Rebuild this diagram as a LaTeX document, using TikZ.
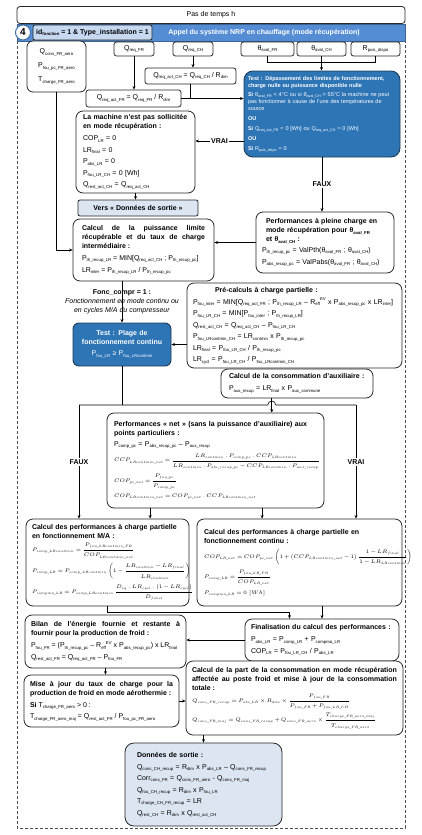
\RequirePackage{fix-cm}
\documentclass[tikz,border=0pt]{standalone}
\usepackage{amsmath}
\usepackage{fontspec}
\setmainfont{Liberation Sans}
\usepackage{tikz}
\usetikzlibrary{positioning,arrows.meta,calc}
\DeclareMathSizes{5.2}{5.2}{3.3}{2.6}
\definecolor{bandblue}{HTML}{548DD4}
\definecolor{testblue}{HTML}{2E75B6}
\definecolor{testline}{HTML}{1F3B57}
\definecolor{idblue}{HTML}{C6D9F1}
\definecolor{outblue}{HTML}{DCE6F2}
\newcommand\lo[1]{\raisebox{-0.35ex}{\fontsize{4.3}{5}\selectfont #1}}
\newcommand\los[1]{\raisebox{-0.35ex}{\fontsize{3.7}{4}\selectfont #1}}
\newcommand\hi[1]{\raisebox{0.9ex}{\fontsize{4.3}{5}\selectfont #1}}
\newcommand\mth[1]{\mbox{\fontsize{5.2}{8}\selectfont\medmuskip=2.5mu\thickmuskip=3.5mu $\displaystyle #1$}}
\setlength{\parindent}{0pt}
\hyphenpenalty=10000
\exhyphenpenalty=10000

\begin{document}
\begin{tikzpicture}[x=1pt,y=-1pt,
  font=\fontsize{7}{9}\selectfont,
  box/.style={draw=black!85,line width=0.8pt,rounded corners=7pt,fill=white,align=left,inner ysep=3pt},
  jbox/.style={box,align=justify},
  var/.style={draw=black!85,line width=0.8pt,rounded corners=2.5pt,fill=white,minimum height=14pt,inner sep=1pt},
  test/.style={box,draw=testline,fill=testblue,text=white,line width=0.9pt},
  info/.style={draw=black!85,line width=0.8pt,rounded corners=2pt,fill=outblue,font=\fontsize{7}{9}\selectfont\bfseries},
  lab/.style={font=\fontsize{7}{9}\selectfont\bfseries,fill=white,inner sep=1.5pt},
  ar/.style={-{Stealth[length=3.5pt,width=3pt]},line width=0.6pt},
  ln/.style={line width=0.6pt}]
  \useasboundingbox (0,0) rectangle (422,835);
  % cadre
  \draw[gray!60!black,line width=1pt,dash pattern=on 3pt off 2pt] (17,41) -- (17,828) -- (405,828) -- (405,41);
  \node[draw=black!85,line width=0.8pt,rounded corners=3pt,minimum width=388pt,minimum height=17pt] (pas) at (211,15) {Pas de temps h};
  \filldraw[fill=bandblue,draw=bandblue!70!black,line width=0.5pt] (17,24) rectangle (405,41);
  \node[font=\fontsize{7}{9}\selectfont\bfseries,text=white] (appel) at (264,32.5) {Appel du système NRP en chauffage (mode récupération)};
  \node[circle,draw=bandblue!80!black,fill=white,line width=1pt,minimum size=15pt,inner sep=0pt,font=\bfseries] (num) at (23,32.5) {4};
  \node[draw=black!85,line width=0.8pt,rounded corners=2pt,fill=idblue,minimum width=119pt,minimum height=15pt,inner sep=1pt,font=\fontsize{7}{9}\selectfont\bfseries] (idf) at (92.5,32.5) {id\lo{fonction} = 1 \& Type\_installation = 1};

  % entrees
  \node[box,align=center,text width=49pt,inner xsep=5pt,minimum height=51pt,rounded corners=6pt] (aero) at (56.5,66.5) {Q\lo{cons\_FR\_aero}\\[5pt] P\lo{fou\_pc\_FR\_aero}\\[5pt] T\lo{charge\_FR\_aero}};
  \node[var,minimum width=40pt] (qfr) at (134,49) {Q\lo{req\_FR}};
  \node[var,minimum width=40pt] (qch) at (193,49) {Q\lo{req\_CH}};
  \node[var,minimum width=53pt] (thfr) at (267.5,49) {θ\lo{aval\_FR}};
  \node[var,minimum width=49pt] (thch) at (321.5,49) {θ\lo{aval\_CH}};
  \node[var,minimum width=49pt] (rpuis) at (375.5,49) {R\lo{puis\_dispo}};
  \node[var,minimum width=91pt,minimum height=16pt] (qactch) at (190.5,76) {Q\lo{req\_act\_CH} = Q\lo{req\_CH} / R\lo{dim}};
  \node[var,minimum width=95pt,minimum height=17pt] (qactfr) at (133.5,98.5) {Q\lo{req\_act\_FR} = Q\lo{req\_FR} / R\lo{dim}};

  % test limites
  \node[test,text width=148pt,inner xsep=4pt,minimum height=86pt,rounded corners=9pt,font=\fontsize{5.5}{7}\selectfont] (test1) at (322,114) {{\bfseries Test : Dépassement des limites de fonctionnement, charge nulle ou puissance disponible nulle}\\[2pt]
    {\bfseries Si} θ\los{aval\_FR} < 4°C ou si θ\los{aval\_CH} > 55°C la machine ne peut pas fonctionner à cause de l'une des températures de source\\[3pt]
    {\bfseries OU}\\[3pt]
    {\bfseries Si} Q\los{req\_act\_FR} = 0 [Wh] ou Q\los{req\_act\_CH} = 0 [Wh]\\[3pt]
    {\bfseries OU}\\[3pt]
    {\bfseries Si} R\los{puis\_dispo} = 0};
  \node[box,text width=105pt,inner xsep=7pt,minimum height=82pt] (mach) at (135.5,152) {{\bfseries La machine n'est pas sollicitée en mode récupération :}\\[3pt]
    COP\lo{LR} = 0\\[2.5pt] LR\lo{final} = 0\\[2.5pt] P\lo{abs\_LR} = 0\\[2.5pt] P\lo{fou\_LR\_CH} = 0 [Wh]\\[2.5pt] Q\lo{rest\_act\_CH} = Q\lo{req\_act\_CH}};
  \node[info,minimum width=120pt,minimum height=16pt] (vers) at (138,208) {Vers « Données de sortie »};

  % pleine charge
  \node[box,text width=126pt,inner xsep=6pt,minimum height=61pt] (perf) at (325,242.5) {\hspace*{4pt}\parbox[t]{114pt}{\bfseries Performances à pleine charge en mode récupération pour θ\lo{aval\_FR}\linebreak et θ\lo{aval\_CH} :}\\[3pt]
    P\lo{th\_recup\_pc} = ValPth(θ\lo{aval\_FR} ; θ\lo{aval\_CH})\\[2.5pt]
    P\lo{abs\_recup\_pc} = ValPabs(θ\lo{aval\_FR} ; θ\lo{aval\_CH})};
  \node[jbox,text width=123pt,inner xsep=9pt,minimum height=62pt] (calc) at (143.5,250) {{\bfseries Calcul de la puissance limite récupérable et du taux de charge intermédiaire :}\\[3pt]
    P\lo{th\_recup\_LR} = MIN[Q\lo{req\_act\_CH} ; P\lo{th\_recup\_pc}]\\[2.5pt]
    LR\lo{inter} = P\lo{th\_recup\_LR} / P\lo{th\_recup\_pc}};

  % charge partielle
  \node[test,align=center,text width=88pt,inner xsep=5pt,minimum height=43pt,rounded corners=6pt] (test2) at (122,344.5) {{\bfseries Test : Plage de\\ fonctionnement continu}\\[2pt] P\lo{fou\_LR} ≥ P\lo{fou\_LRcontmin}};
  \node[box,text width=203pt,inner xsep=6pt,minimum height=85pt] (pre) at (294.5,325.5) {\hspace*{22pt}{\bfseries Pré-calculs à charge partielle :}\\[3pt]
    P\lo{fou\_inter} = MIN[Q\lo{req\_act\_FR} ; P\lo{th\_recup\_LR} – R\lo{eff}\hi{EV} x P\lo{abs\_recup\_pc} x LR\lo{inter}]\\[2.5pt]
    P\lo{fou\_LR\_CH} = MIN[P\lo{fou\_inter} ; P\lo{th\_recup\_LR}]\\[2.5pt]
    Q\lo{rest\_act\_CH} = Q\lo{req\_act\_CH} – P\lo{fou\_LR\_CH}\\[2.5pt]
    P\lo{fou\_LRcontmin\_CH} = LR\lo{contmin} x P\lo{th\_recup\_pc}\\[2.5pt]
    LR\lo{final} = P\lo{fou\_LR\_CH} / P\lo{th\_recup\_pc}\\[2.5pt]
    LR\lo{cycl} = P\lo{fou\_LR\_CH} / P\lo{fou\_LRcontmin\_CH}};
  \node[box,text width=136pt,inner xsep=8pt,minimum height=29pt] (aux) at (297,383.5) {{\bfseries Calcul de la consommation d'auxiliaire :}\\[3pt]
    P\lo{aux\_recup} = LR\lo{final} x P\lo{aux\_commune}};
  \node[box,text width=203pt,inner xsep=7pt,minimum height=95pt] (net) at (215.5,460.5) {{\bfseries Performances « net » (sans la puissance d'auxiliaire) aux points particuliers :}\\[2pt]
    P\lo{comp\_pc} = P\lo{abs\_recup\_pc} – P\lo{aux\_recup}\\[4pt]
    \mth{CCP_{LRcontmin\_net}=\frac{LR_{contmin}\,.\,P_{comp\_pc}\,.\,CCP_{LRcontmin}}{LR_{contmin}\,.\,P_{abs\_recup\_pc}-CCP_{LRcontmin}\,.\,P_{aux\_recup}}}\\[4pt]
    \mth{COP_{pc\_net}=\frac{P_{fou\_pc}}{P_{comp\_pc}}}\\[4pt]
    \mth{COP_{LRcontmin\_net}=COP_{pc\_net}\,.\,CCP_{LRcontmin\_net}}};
  \node[box,text width=151pt,inner xsep=6pt,minimum height=87pt] (ma) at (107.5,562.5) {{\bfseries Calcul des performances à charge partielle en fonctionnement M/A :}\\[4pt]
    \mth{P_{comp\_LRcontmin}=\frac{P_{fou\_LRcontmin\_FR}}{COP_{LRcontmin\_net}}}\\[4pt]
    \mth{P_{comp\_LR}=P_{comp\_LRcontmin}\left(1-\frac{LR_{contmin}-LR_{final}}{LR_{contmin}}\right)}\\[4pt]
    \mth{P_{compma\_LR}=P_{comp\_LRcontmin}\,\frac{D_{eq}\,.\,LR_{cycl}\,.\left(1-LR_{cycl}\right)}{D_{fonct}}}};
  \node[box,text width=191pt,inner xsep=7pt,minimum height=87pt] (cont) at (299.5,562.5) {{\bfseries Calcul des performances à charge partielle en fonctionnement continu :}\\[5pt]
    \mth{COP_{LR\_net}=COP_{pc\_net}\left(1+\left(CCP_{LRcontmin\_net}-1\right)\frac{1-LR_{final}}{1-LR_{LRcontmin}}\right)}\\[4pt]
    \mth{P_{comp\_LR}=\frac{P_{fou\_LR\_FR}}{COP_{LR\_net}}}\\[4pt]
    \mth{P_{compma\_LR}=0\ [Wh]}};

  % finalisation et froid
  \node[box,text width=142pt,inner xsep=6pt,minimum height=42pt] (fin) at (322,640) {{\bfseries Finalisation du calcul des performances :}\\[3pt]
    P\lo{abs\_LR} = P\lo{comp\_LR} + P\lo{compma\_LR}\\[2.5pt]
    COP\lo{LR} = P\lo{fou\_LR\_CH} / P\lo{abs\_LR}};
  \node[jbox,text width=149pt,inner xsep=6pt,minimum height=53pt] (bilan) at (105.5,641.5) {{\bfseries Bilan de l'énergie fournie et restante à\linebreak fournir pour la production de froid :}\\[3pt]
    P\lo{fou\_FR} = (P\lo{th\_recup\_pc} – R\lo{eff}\hi{EV} x P\lo{abs\_recup\_pc}) x LR\lo{final}\\[2.5pt]
    Q\lo{rest\_act\_FR} = Q\lo{req\_act\_FR} – P\lo{fou\_FR}};
  \node[jbox,text width=143pt,inner xsep=6pt,minimum height=52pt] (maj) at (101.5,701) {{\bfseries Mise à jour du taux de charge pour la production de froid en mode aérothermie :}\\[3pt]
    {\bfseries Si} T\lo{charge\_FR\_aero} > 0 :\\[2.5pt]
    T\lo{charge\_FR\_aero\_maj} = Q\lo{rest\_act\_FR} / P\lo{fou\_pc\_FR\_aero}};
  \node[jbox,text width=205pt,inner xsep=6pt,minimum height=74pt] (part) at (294.5,698) {{\bfseries Calcul de la part de la consommation en mode récupération affectée au poste froid et mise à jour de la consommation\linebreak totale :}\\[3pt]
    \mth{Q_{cons\_FR\_recup}=P_{abs\_LR}\times R_{dim}\times\frac{P_{fou\_FR}}{P_{fou\_FR}+P_{fou\_LR\_CH}}}\\[3pt]
    \mth{Q_{cons\_FR\_maj}=Q_{cons\_FR\_recup}+Q_{cons\_FR\_aero}\times\frac{T_{charge\_FR\_aero\_maj}}{T_{charge\_FR\_aero}}}};
  \node[box,fill=outblue,text width=133pt,inner xsep=12pt,minimum height=83pt,rounded corners=9pt] (out) at (203.5,784.5) {{\bfseries Données de sortie :}\\[3pt]
    Q\lo{cons\_CH\_recup} = R\lo{dim} x P\lo{abs\_LR} – Q\lo{cons\_FR\_recup}\\[2.5pt]
    Corr\lo{cons\_FR} = Q\lo{cons\_FR\_aero} - Q\lo{cons\_FR\_maj}\\[2.5pt]
    Q\lo{fou\_CH\_recup} = R\lo{dim} x P\lo{fou\_LR}\\[2.5pt]
    T\lo{charge\_CH\_FR\_recup} = LR\\[2.5pt]
    Q\lo{rest\_CH} = R\lo{dim} x Q\lo{rest\_act\_CH}};

  % liaisons
  \draw[ar] (qfr.south) -- (qfr.south |- qactfr.north);
  \draw[ar] (qch.south) -- (qch.south |- qactch.north);
  \draw[ln] (thfr.south) -- ++(0,6) -| (rpuis.south);
  \draw[ar] (thch.south) -- (thch.south |- test1.north);
  \draw[ar] (qactfr.east) -- (qactfr.east -| test1.west);
  \draw[ln] (qactch.south) -- (qactch.south |- qactfr.east);
  \draw[ar] ([yshift=-27pt]test1.west) -- node[lab]{VRAI} ([yshift=-27pt]test1.west -| mach.east);
  \draw[ar] (test1.south) -- node[lab]{FAUX} (test1.south |- perf.north);
  \draw[ar] (mach.south) -- (mach.south |- vers.north);
  \draw[ar] (aero.south) |- (calc.west);
  \draw[ar] (perf.west) -- (perf.west -| calc.east);
  \draw[ar] (calc.south -| test2.north) -- node[align=center]{{\bfseries Fonc\_compr = 1 :}\\ \textit{Fonctionnement en mode continu ou}\\ \textit{en cycles M/A du compresseur}} (test2.north);
  \draw[ar] (pre.west |- test2.east) -- (test2.east);
  \coordinate (auxout) at ($(aux.south west)!0.335!(aux.south east)$);
  \coordinate (hl) at (79,405);
  \coordinate (hr) at (356,405);
  \draw[ln] (test2.south) -- (test2.south |- hl);
  \draw[ln] (hl) -- ([xshift=-4pt]auxout |- hl) arc[start angle=180,end angle=0,radius=4pt] -- (hr);
  \draw[ar] (auxout) -- (auxout |- net.north);
  \draw[ar] (hl) -- node[lab]{FAUX} (hl |- ma.north);
  \draw[ar] (hr) -- node[lab]{VRAI} (hr |- cont.north);
  \coordinate (nl) at ($(net.south west)!0.2!(net.south east)$);
  \coordinate (nr) at ($(net.south west)!0.714!(net.south east)$);
  \draw[ar] (nl) -- (nl |- ma.north);
  \draw[ar] (nr) -- (nr |- cont.north);
  \coordinate (fj) at ($(fin.north west)!0.29!(fin.north east)$);
  \draw[ar] (ma.south) -- ++(0,6) -| (fj);
  \draw[ar] (fin.north |- cont.south) -- (fin.north);
  \draw[ar] (fin.west) -- (fin.west -| bilan.east);
  \draw[ar] (bilan.south) -- (bilan.south |- maj.north);
  \draw[ar] (maj.east) -- (maj.east -| part.west);
  \draw[ar] (out.north |- part.south) -- (out.north);
\end{tikzpicture}
\end{document}
